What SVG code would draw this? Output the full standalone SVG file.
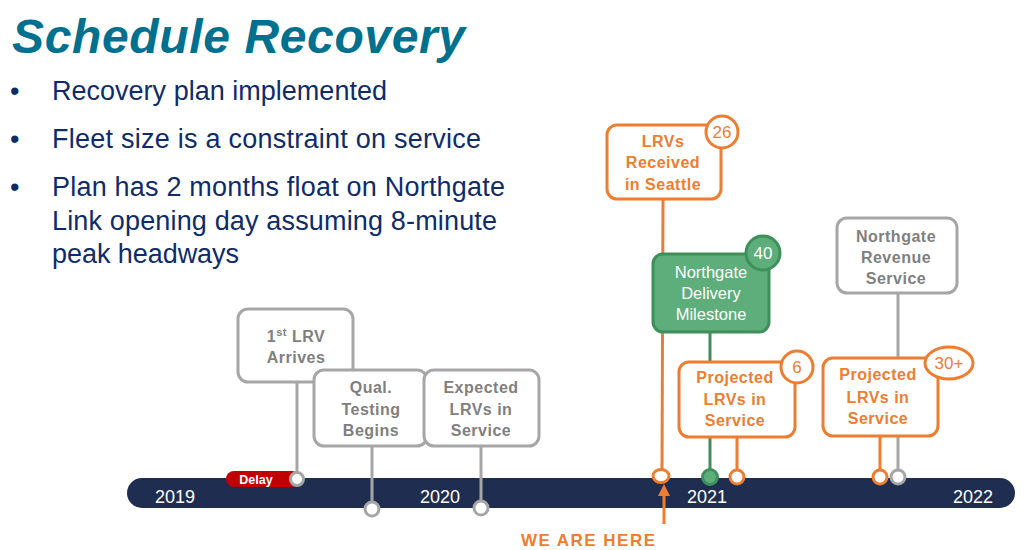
<svg xmlns="http://www.w3.org/2000/svg" width="1024" height="550" viewBox="0 0 1024 550">
<style>
.title{font-family:"Liberation Sans",Arial,sans-serif;font-weight:bold;font-style:italic;font-size:48px;fill:#00708F}
.bul{font-family:"Liberation Sans",Arial,sans-serif;font-size:27px;fill:#0F2C68}
.yr{font-family:"Liberation Sans",Arial,sans-serif;font-size:18px;fill:#ffffff}
.gbox{fill:#ffffff;stroke:#A6A6A6;stroke-width:3}
.obox{fill:#ffffff;stroke:#ED7D31;stroke-width:3}
.gt{font-family:"Liberation Sans",Arial,sans-serif;font-weight:bold;font-size:16px;fill:#808080;text-anchor:middle;letter-spacing:0.5px}
.ot{font-family:"Liberation Sans",Arial,sans-serif;font-weight:bold;font-size:16px;fill:#ED7D31;text-anchor:middle;letter-spacing:0.5px}
.wt{font-family:"Liberation Sans",Arial,sans-serif;font-size:16.5px;fill:#ffffff;text-anchor:middle}
.badge{font-family:"Liberation Sans",Arial,sans-serif;font-size:17px;text-anchor:middle}
.gl{stroke:#A6A6A6;stroke-width:3;fill:none}
.ol{stroke:#ED7D31;stroke-width:3;fill:none}
.grl{stroke:#3F8F5A;stroke-width:3;fill:none}
.gdot{fill:#ffffff;stroke:#A6A6A6;stroke-width:3}
.odot{fill:#ffffff;stroke:#ED7D31;stroke-width:3}
</style>
<defs>
<marker id="arr" viewBox="0 0 10 10" refX="5" refY="5" markerWidth="4" markerHeight="4" orient="auto-start-reverse"><path d="M0,0 L10,5 L0,10 z" fill="#ED7D31"/></marker>
</defs>
<rect width="1024" height="550" fill="#ffffff"/>
<g id="title"><text class="title" x="12" y="53" textLength="453">Schedule Recovery</text></g>
<g id="bullets">
<text class="bul" x="10" y="100">•</text><text class="bul" x="52" y="100" textLength="335">Recovery plan implemented</text>
<text class="bul" x="10" y="148">•</text><text class="bul" x="52" y="148" textLength="429">Fleet size is a constraint on service</text>
<text class="bul" x="10" y="196">•</text><text class="bul" x="52" y="196" textLength="453">Plan has 2 months float on Northgate</text>
<text class="bul" x="52" y="230" textLength="445">Link opening day assuming 8-minute</text>
<text class="bul" x="52" y="263" textLength="187">peak headways</text>
</g>
<g id="timeline">
<rect x="127" y="478" width="888" height="30" rx="15" fill="#1F2E50"/>
<text class="yr" x="155" y="503">2019</text>
<text class="yr" x="420" y="503">2020</text>
<text class="yr" x="687" y="503">2021</text>
<text class="yr" x="953" y="503">2022</text>
</g>
<g id="delay">
<rect x="226" y="471" width="74" height="16" rx="8" fill="#C00000"/>
<text x="256" y="484" font-family="Liberation Sans, Arial, sans-serif" font-weight="bold" font-size="12.5" fill="#ffffff" text-anchor="middle">Delay</text>
</g>
<g id="connectors">
<line class="gl" x1="297" y1="382" x2="297" y2="473"/>
<line class="gl" x1="372" y1="446" x2="372" y2="502"/>
<line class="gl" x1="481" y1="446" x2="481" y2="501"/>
<line class="ol" x1="663" y1="199" x2="662" y2="470"/>
<line class="grl" x1="710" y1="332" x2="710" y2="470"/>
<line class="ol" x1="737" y1="437" x2="737" y2="470"/>
<line class="ol" x1="880" y1="436" x2="880" y2="470"/>
<line class="gl" x1="898" y1="293" x2="898" y2="470"/>
<circle class="gdot" cx="297" cy="479" r="6.5"/>
<circle class="gdot" cx="372" cy="509" r="7"/>
<circle class="gdot" cx="481" cy="508" r="7"/>
<ellipse class="odot" cx="661" cy="476" rx="8" ry="6.5"/>
<circle cx="710" cy="477" r="7.5" fill="#5DAE7A" stroke="#3F8F5A" stroke-width="3"/>
<circle class="odot" cx="737" cy="477" r="7"/>
<circle class="odot" cx="880" cy="477" r="7"/>
<circle class="gdot" cx="898" cy="477" r="7"/>
<line class="ol" x1="664" y1="524" x2="664" y2="490" marker-end="url(#arr)"/>
</g>
<g id="n-first-lrv">
<rect class="gbox" x="238" y="309" width="115" height="73" rx="10"/>
<text class="gt" x="296" y="342">1<tspan font-size="11" dy="-6">st</tspan><tspan dy="6"> LRV</tspan></text>
<text class="gt" x="296" y="363">Arrives</text>
</g>
<g id="n-qual">
<rect class="gbox" x="314" y="370" width="113" height="76" rx="10"/>
<text class="gt" x="371" y="393">Qual.</text>
<text class="gt" x="371" y="415">Testing</text>
<text class="gt" x="371" y="436">Begins</text>
</g>
<g id="n-expected">
<rect class="gbox" x="424" y="370" width="115" height="76" rx="10"/>
<text class="gt" x="481" y="393">Expected</text>
<text class="gt" x="481" y="415">LRVs in</text>
<text class="gt" x="481" y="436">Service</text>
</g>
<g id="n-received">
<rect class="obox" x="607" y="125" width="114" height="74" rx="10"/>
<text class="ot" x="663" y="147">LRVs</text>
<text class="ot" x="663" y="168">Received</text>
<text class="ot" x="663" y="190">in Seattle</text>
<circle cx="722" cy="132" r="16" fill="#ffffff" stroke="#ED7D31" stroke-width="3"/>
<text class="badge" x="722" y="138" fill="#ED7D31">26</text>
</g>
<g id="n-delivery">
<rect x="653" y="254" width="116" height="78" rx="10" fill="#5DAE7A" stroke="#3F8F5A" stroke-width="3"/>
<text class="wt" x="711" y="278">Northgate</text>
<text class="wt" x="711" y="299">Delivery</text>
<text class="wt" x="711" y="320">Milestone</text>
<circle cx="763" cy="253" r="17" fill="#5DAE7A" stroke="#3F8F5A" stroke-width="3"/>
<text class="badge" x="763" y="259" fill="#ffffff">40</text>
</g>
<g id="n-projected-6">
<rect class="obox" x="679" y="362" width="116" height="75" rx="10"/>
<text class="ot" x="735" y="383">Projected</text>
<text class="ot" x="735" y="405">LRVs in</text>
<text class="ot" x="735" y="426">Service</text>
<circle cx="797" cy="367" r="16" fill="#ffffff" stroke="#ED7D31" stroke-width="3"/>
<text class="badge" x="797" y="373" fill="#ED7D31">6</text>
</g>
<g id="n-revenue">
<rect class="gbox" x="837" y="218" width="120" height="75" rx="10"/>
<text class="gt" x="896" y="242">Northgate</text>
<text class="gt" x="896" y="263">Revenue</text>
<text class="gt" x="896" y="284">Service</text>
</g>
<g id="n-projected-30">
<rect class="obox" x="823" y="358" width="115" height="78" rx="10"/>
<text class="ot" x="878" y="380">Projected</text>
<text class="ot" x="878" y="403">LRVs in</text>
<text class="ot" x="878" y="424">Service</text>
<ellipse cx="949" cy="363" rx="24" ry="16" fill="#ffffff" stroke="#ED7D31" stroke-width="3"/>
<text class="badge" x="949" y="369" fill="#ED7D31">30+</text>
</g>
<g id="we-are-here">
<text x="588" y="546" font-family="Liberation Sans, Arial, sans-serif" font-weight="bold" font-size="17" fill="#ED7D31" text-anchor="middle" textLength="134">WE ARE HERE</text>
</g>
</svg>
